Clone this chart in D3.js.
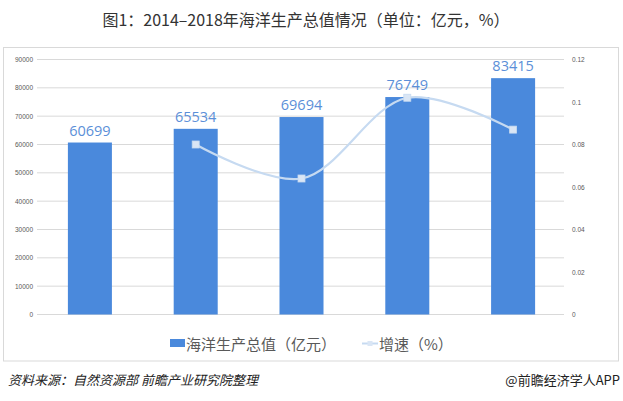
<!DOCTYPE html>
<html><head><meta charset="utf-8">
<script src="https://cdn.jsdelivr.net/npm/d3@7"></script>
<style>
html,body{margin:0;padding:0;background:#fff;}
svg{display:block;font-family:"Noto Sans CJK SC","Noto Sans",sans-serif;}
</style></head>
<body>
<svg id="c" width="623" height="401"></svg>
<script>
const years = ["2014","2015","2016","2017","2018"];
const outputValues = [60699, 65534, 69694, 76749, 83415];
const growthYears = ["2015","2016","2017","2018"];
const growthValues = [0.080, 0.064, 0.102, 0.087];
const leftTicks = [0,10000,20000,30000,40000,50000,60000,70000,80000,90000];
const rightTicks = [0,0.02,0.04,0.06,0.08,0.1,0.12];
const titleText = "图1：2014–2018年海洋生产总值情况（单位：亿元，%）";
const legendLabels = ["海洋生产总值（亿元）","增速（%）"];
const sourceText = "资料来源：自然资源部 前瞻产业研究院整理";
const brandText = "@前瞻经济学人APP";

const svg = d3.select("#c");
const barColor = "#4a89dc", lineColor = "#c6daf1", markColor = "#dae6f5", labelColor = "#5b8fd8";
const gridColor = "#d9d9d9", axisText = "#595959";

// title
svg.append("text").attr("x",306).attr("y",26).attr("text-anchor","middle")
  .attr("font-size",16).attr("fill","#333").text(titleText);

// frame
svg.append("rect").attr("x",3.5).attr("y",47.5).attr("width",615).attr("height",313.5)
  .attr("fill","none").attr("stroke",gridColor).attr("stroke-width",1);

const x = d3.scaleBand().domain(years).range([37,566]).paddingInner(0.584).paddingOuter(0.292);
const yL = d3.scaleLinear().domain([0,90000]).range([314.5,59.5]);
const yR = d3.scaleLinear().domain([0,0.12]).range([314.5,59.5]);

// gridlines
svg.append("g").selectAll("line").data(leftTicks).join("line")
  .attr("x1",37).attr("x2",564).attr("y1",d=>yL(d)).attr("y2",d=>yL(d))
  .attr("stroke",gridColor).attr("stroke-width",1);

// left axis
const gl = svg.append("g").attr("transform","translate(33,0)")
  .call(d3.axisLeft(yL).tickValues(leftTicks).tickSize(0).tickPadding(0).tickFormat(d3.format("d")));
gl.select(".domain").remove();
gl.selectAll("text").attr("font-size",6.5).attr("fill",axisText).attr("font-family","Liberation Sans, sans-serif");

// right axis
const gr = svg.append("g").attr("transform","translate(572,0)")
  .call(d3.axisRight(yR).tickValues(rightTicks).tickSize(0).tickPadding(0).tickFormat(d=>String(+d.toFixed(2))));
gr.select(".domain").remove();
gr.selectAll("text").attr("font-size",6.5).attr("fill",axisText).attr("font-family","Liberation Sans, sans-serif");

// bars
svg.append("g").selectAll("rect").data(outputValues).join("rect")
  .attr("x",(d,i)=>x(years[i])).attr("width",x.bandwidth())
  .attr("y",d=>yL(d)).attr("height",d=>yL(0)-yL(d)).attr("fill",barColor);

// bar labels
svg.append("g").selectAll("text").data(outputValues).join("text")
  .attr("x",(d,i)=>x(years[i])+x.bandwidth()/2).attr("y",d=>yL(d)-7)
  .attr("text-anchor","middle").attr("font-family","Open Sans, sans-serif")
  .attr("font-size",14.5).attr("fill",labelColor).text(d=>d);

// growth line
const pts = growthValues.map((v,i)=>[x(growthYears[i])+x.bandwidth()/2, yR(v)]);
svg.append("path").attr("d", d3.line().curve(d3.curveCatmullRom.alpha(0.5))(pts))
  .attr("fill","none").attr("stroke",lineColor).attr("stroke-width",2.2);
svg.append("g").selectAll("rect").data(pts).join("rect")
  .attr("x",d=>d[0]-3.5).attr("y",d=>d[1]-3.5).attr("width",7).attr("height",7)
  .attr("fill",markColor).attr("stroke","#c6daf1").attr("stroke-width",0.8);

// legend
const lg = svg.append("g");
lg.append("rect").attr("x",170).attr("y",339).attr("width",15).attr("height",8).attr("fill",barColor);
lg.append("text").attr("x",186).attr("y",350).attr("font-size",15).attr("fill",axisText).text(legendLabels[0]);
lg.append("line").attr("x1",362).attr("x2",378).attr("y1",343.5).attr("y2",343.5).attr("stroke",lineColor).attr("stroke-width",2);
lg.append("rect").attr("x",367.5).attr("y",341).attr("width",5).attr("height",5).attr("fill",markColor);
lg.append("text").attr("x",379).attr("y",350).attr("font-size",15).attr("fill",axisText).text(legendLabels[1]);

// footer
svg.append("text").attr("x",8).attr("y",385).attr("font-size",13).attr("font-style","italic")
  .attr("fill","#222").text(sourceText);
svg.append("text").attr("x",620).attr("y",385).attr("text-anchor","end").attr("font-size",13)
  .attr("fill","#222").text(brandText);
</script>
</body></html>
